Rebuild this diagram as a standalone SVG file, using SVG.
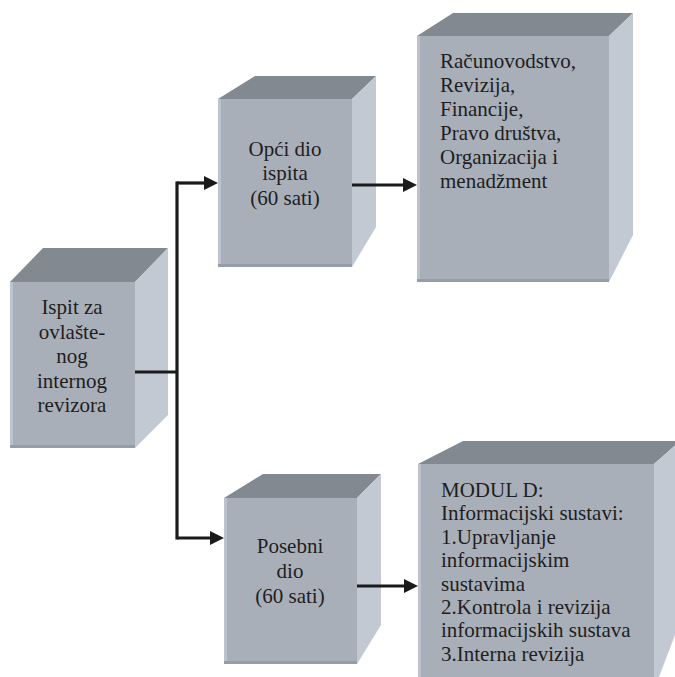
<svg xmlns="http://www.w3.org/2000/svg" width="675" height="677" viewBox="0 0 675 677">
<defs>
<style>
.front{fill:#A9AFB8}
.top{fill:#828990}
.side{fill:#C2C9D2}
.edgeL{fill:#BCC3CC}
.edgeB{fill:#979DA6}
text{font-family:'Liberation Serif','Times New Roman',serif;font-size:21px;fill:#1e1e1e}
.c{text-anchor:middle}
.conn{stroke:#1a1a1a;stroke-width:3.2;fill:none}
</style>
<marker id="ah" markerUnits="userSpaceOnUse" markerWidth="14" markerHeight="14" refX="4" refY="7" orient="auto">
<path d="M0,0 L14,7 L0,14 Z" fill="#1a1a1a"/>
</marker>
</defs>
<rect width="675" height="677" fill="#ffffff"/>

<g id="node-ispit" font-family="Liberation Serif, serif">
<polygon class="top" points="10,282 43,248 168,248 135,282"/>
<polygon class="side" points="135,282 168,248 168,415 135,448"/>
<rect class="front" x="10" y="282" width="125" height="166"/>
<rect class="edgeL" x="10" y="282" width="3" height="166"/>
<rect class="edgeB" x="10" y="445" width="125" height="3"/>
<text class="c" x="72" y="314">Ispit za</text>
<text class="c" x="72" y="338.5">ovlašte-</text>
<text class="c" x="72" y="363">nog</text>
<text class="c" x="72" y="387.5">internog</text>
<text class="c" x="72" y="412">revizora</text>
</g>

<g id="node-opci" font-family="Liberation Serif, serif">
<polygon class="top" points="218,99 255,76 376,76 352,99"/>
<polygon class="side" points="352,99 376,76 376,227 352,267"/>
<rect class="front" x="218" y="99" width="134" height="168"/>
<rect class="edgeL" x="218" y="99" width="3" height="168"/>
<rect class="edgeB" x="218" y="264" width="134" height="3"/>
<text class="c" x="285" y="156">Opći dio</text>
<text class="c" x="285" y="180">ispita</text>
<text class="c" x="285" y="205">(60 sati)</text>
</g>

<g id="node-predmeti" font-family="Liberation Serif, serif">
<polygon class="top" points="417,36 453,13 633,13 609,36"/>
<polygon class="side" points="609,36 633,13 633,235 609,282"/>
<rect class="front" x="417" y="36" width="192" height="246"/>
<rect class="edgeL" x="417" y="36" width="3" height="246"/>
<rect class="edgeB" x="417" y="279" width="192" height="3"/>
<text x="440" y="68">Računovodstvo,</text>
<text x="440" y="92">Revizija,</text>
<text x="440" y="116">Financije,</text>
<text x="440" y="139.5">Pravo društva,</text>
<text x="440" y="163.5">Organizacija i</text>
<text x="440" y="187.5">menadžment</text>
</g>

<g id="node-posebni" font-family="Liberation Serif, serif">
<polygon class="top" points="224,498 263,474 381,474 357,498"/>
<polygon class="side" points="357,498 381,474 381,625 357,664"/>
<rect class="front" x="224" y="498" width="133" height="166"/>
<rect class="edgeL" x="224" y="498" width="3" height="166"/>
<rect class="edgeB" x="224" y="661" width="133" height="3"/>
<text class="c" x="290" y="553">Posebni</text>
<text class="c" x="290" y="578">dio</text>
<text class="c" x="290" y="603">(60 sati)</text>
</g>

<g id="node-modul" font-family="Liberation Serif, serif">
<polygon class="top" points="418,464 463,441 680,441 654,464"/>
<polygon class="side" points="654,464 680,441 680,622 654,690"/>
<rect class="front" x="418" y="464" width="236" height="226"/>
<rect class="edgeL" x="418" y="464" width="3" height="226"/>
<text x="441" y="497">MODUL D:</text>
<text x="441" y="520.4">Informacijski sustavi:</text>
<text x="441" y="543.8">1.Upravljanje</text>
<text x="441" y="567.2">informacijskim</text>
<text x="441" y="590.6">sustavima</text>
<text x="441" y="614">2.Kontrola i revizija</text>
<text x="441" y="637.4">informacijskih sustava</text>
<text x="441" y="660.8">3.Interna revizija</text>
</g>

<g id="connectors">
<path class="conn" d="M135,372 H177"/>
<path class="conn" d="M177,183 V538" stroke-linecap="square"/>
<path class="conn" d="M177,183 H208" marker-end="url(#ah)"/>
<path class="conn" d="M177,538 H214" marker-end="url(#ah)"/>
<path class="conn" d="M352,185 H407" marker-end="url(#ah)"/>
<path class="conn" d="M357,586 H408" marker-end="url(#ah)"/>
</g>
</svg>
